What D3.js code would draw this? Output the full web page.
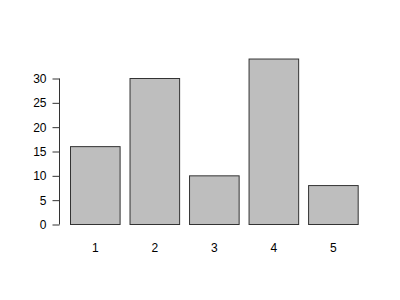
<!DOCTYPE html>
<html><head><meta charset="utf-8">
<script src="https://cdn.jsdelivr.net/npm/d3@7"></script>
<style>body{margin:0;background:#fff}svg{display:block}</style>
</head><body>
<svg id="c" width="400" height="300"></svg>
<script>
const categories = ["1","2","3","4","5"];
const values = [16, 30, 10, 34, 8];
const yTicks = [0, 5, 10, 15, 20, 25, 30];

const svg = d3.select("#c");
const font = "Liberation Sans, Arial, sans-serif";
// R barplot style: width 1, space 0.2
const x = d3.scaleLinear().domain([0.2, 6.2]).range([70.5, 368.1]);
const y = d3.scaleLinear().domain([0, 30]).range([224.5, 78.5]);

const bw = x(1) - x(0);
svg.selectAll("rect.bar").data(values).enter().append("rect")
  .attr("class","bar")
  .attr("x", (d,i) => x(0.2 + 1.2*i))
  .attr("y", d => y(d))
  .attr("width", bw)
  .attr("height", d => y(0) - y(d))
  .attr("fill", "#bebebe")
  .attr("stroke", "#333")
  .attr("stroke-width", 1);

// y axis
const ax = d3.axisLeft(y).tickValues(yTicks).tickSize(7).tickPadding(6);
const g = svg.append("g").attr("transform","translate(59.5,0)").call(ax);
g.select(".domain").remove();
g.append("line").attr("x1",0).attr("x2",0).attr("y1",y(0)).attr("y2",y(30)).attr("stroke","#333");
g.selectAll(".tick line").attr("stroke","#333");
g.selectAll(".tick text").attr("font-family",font).attr("font-size",12).attr("fill","#000");

// x labels
svg.selectAll("text.xl").data(categories).enter().append("text")
  .attr("class","xl")
  .attr("x", (d,i) => x(0.2 + 1.2*i + 0.5))
  .attr("y", 252)
  .attr("text-anchor","middle")
  .attr("font-family",font).attr("font-size",12).attr("fill","#000")
  .text(d => d);
</script>
</body></html>
